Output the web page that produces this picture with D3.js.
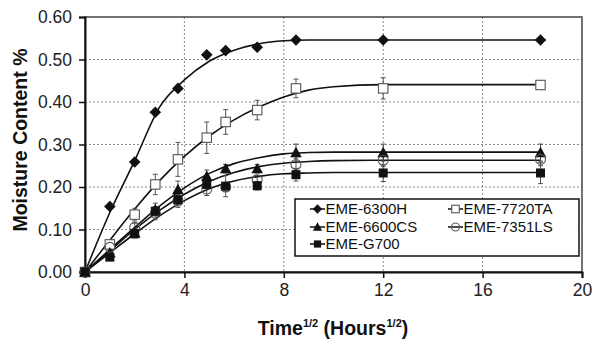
<!DOCTYPE html>
<html><head><meta charset="utf-8">
<script src="https://cdn.jsdelivr.net/npm/d3@7"></script>
<style>html,body{margin:0;padding:0;background:#fff;}svg{display:block;}</style>
</head><body>
<svg id="c" width="592" height="346"></svg>
<script>
// ---- data ----
const xValues = [0, 1, 2, 2.83, 3.74, 4.90, 5.66, 6.93, 8.49, 12, 18.33];
const seriesNames = ["EME-6300H", "EME-7720TA", "EME-6600CS", "EME-7351LS", "EME-G700"];
const m6300H  = [0, 0.154, 0.259, 0.376, 0.432, 0.511, 0.521, 0.529, 0.546, 0.546, 0.546];
const m7720TA = [0, 0.065, 0.135, 0.206, 0.265, 0.316, 0.353, 0.381, 0.432, 0.432, 0.440];
const m6600CS = [0, 0.045, 0.092, 0.147, 0.194, 0.225, 0.243, 0.243, 0.281, 0.281, 0.281];
const m7351LS = [0, 0.058, 0.105, 0.138, 0.167, 0.195, 0.200, 0.217, 0.253, 0.263, 0.265];
const mG700   = [0, 0.035, 0.090, 0.143, 0.170, 0.206, 0.202, 0.203, 0.229, 0.233, 0.233];
const e6300H  = [0, 0.004, 0.004, 0.004, 0.004, 0.004, 0.004, 0.004, 0.004, 0.004, 0.004];
const e7720TA = [0, 0.010, 0.015, 0.024, 0.040, 0.037, 0.029, 0.023, 0.022, 0.025, 0.010];
const e6600CS = [0, 0.006, 0.010, 0.015, 0.020, 0.015, 0.010, 0.010, 0.020, 0.020, 0.020];
const e7351LS = [0, 0.010, 0.010, 0.015, 0.015, 0.015, 0.010, 0.010, 0.015, 0.015, 0.015];
const eG700   = [0, 0.006, 0.010, 0.010, 0.010, 0.010, 0.025, 0.010, 0.015, 0.020, 0.025];
// fitted curves
const curveX   = [0, 1, 2, 3, 4, 5, 6, 7, 8, 9, 10, 12, 18.33];
const c6300H   = [0, 0.140, 0.262, 0.388, 0.452, 0.496, 0.522, 0.537, 0.544, 0.546, 0.546, 0.546, 0.546];
const c7720TA  = [0, 0.075, 0.148, 0.215, 0.272, 0.320, 0.358, 0.388, 0.412, 0.428, 0.436, 0.441, 0.441];
const c6600CS  = [0, 0.053, 0.105, 0.155, 0.198, 0.232, 0.255, 0.269, 0.278, 0.281, 0.282, 0.282, 0.282];
const c7351LS  = [0, 0.050, 0.100, 0.145, 0.183, 0.213, 0.234, 0.248, 0.256, 0.260, 0.262, 0.263, 0.263];
const cG700    = [0, 0.045, 0.090, 0.132, 0.168, 0.196, 0.214, 0.225, 0.231, 0.233, 0.234, 0.234, 0.234];
const xTicks = [0, 4, 8, 12, 16, 20];
const yTicks = [0, 0.1, 0.2, 0.3, 0.4, 0.5, 0.6];

// ---- layout ----
const svg = d3.select("#c");
const L = 85, R = 582, T = 17, B = 272;
const x = d3.scaleLinear().domain([0, 20]).range([L, R]);
const y = d3.scaleLinear().domain([0, 0.6]).range([B, T]);
const FONT = "'Liberation Sans', Arial, sans-serif";

const series = [
  {name: seriesNames[0], m: m6300H,  e: e6300H,  c: c6300H,  sym: "diamond"},
  {name: seriesNames[1], m: m7720TA, e: e7720TA, c: c7720TA, sym: "osquare"},
  {name: seriesNames[2], m: m6600CS, e: e6600CS, c: c6600CS, sym: "triangle"},
  {name: seriesNames[3], m: m7351LS, e: e7351LS, c: c7351LS, sym: "ocircle"},
  {name: seriesNames[4], m: mG700,   e: eG700,   c: cG700,   sym: "square"}
];

// grid
const grid = svg.append("g");
grid.selectAll("line.v").data(xTicks.slice(1, -1)).join("line")
  .attr("x1", d => x(d)).attr("x2", d => x(d)).attr("y1", T).attr("y2", B)
  .attr("stroke", "#8a8a8a").attr("stroke-width", 1).attr("stroke-dasharray", "2,2");
grid.selectAll("line.h").data(yTicks.slice(1, -1)).join("line")
  .attr("x1", L).attr("x2", R).attr("y1", d => y(d)).attr("y2", d => y(d))
  .attr("stroke", "#8a8a8a").attr("stroke-width", 1).attr("stroke-dasharray", "2,2");

// frame
svg.append("rect").attr("x", L).attr("y", T).attr("width", R - L).attr("height", B - T)
  .attr("fill", "none").attr("stroke", "#444").attr("stroke-width", 1.5);

// axes
const xAxis = svg.append("g").attr("transform", `translate(0,${B})`)
  .call(d3.axisBottom(x).tickValues(xTicks).tickFormat(d3.format("d")).tickSizeOuter(0).tickSize(6).tickPadding(6));
const yAxis = svg.append("g").attr("transform", `translate(${L},0)`)
  .call(d3.axisLeft(y).tickValues(yTicks).tickFormat(d3.format(".2f")).tickSizeOuter(0).tickSize(6).tickPadding(7));
[xAxis, yAxis].forEach(a => {
  a.select(".domain").attr("stroke", "#111").attr("stroke-width", 2);
  a.selectAll(".tick line").attr("stroke", "#111").attr("stroke-width", 1.5);
  a.selectAll(".tick text").attr("font-family", FONT).attr("font-size", 17.5).attr("fill", "#222");
});

// curves
const line = d3.line().x(d => x(d[0])).y(d => y(d[1])).curve(d3.curveMonotoneX);
series.forEach(s => {
  svg.append("path").attr("d", line(curveX.map((cx, i) => [cx, s.c[i]])))
    .attr("fill", "none").attr("stroke", "#111").attr("stroke-width", 1.6);
});

// error bars
series.forEach(s => {
  const g = svg.append("g").attr("stroke", "#444").attr("stroke-width", 0.9);
  xValues.forEach((xv, i) => {
    if (!s.e[i]) return;
    const y1 = y(s.m[i] - s.e[i]), y2 = y(s.m[i] + s.e[i]);
    g.append("line").attr("x1", x(xv)).attr("x2", x(xv)).attr("y1", y1).attr("y2", y2);
    g.append("line").attr("x1", x(xv) - 2.5).attr("x2", x(xv) + 2.5).attr("y1", y1).attr("y2", y1);
    g.append("line").attr("x1", x(xv) - 2.5).attr("x2", x(xv) + 2.5).attr("y1", y2).attr("y2", y2);
  });
});

function drawMarker(g, sym, cx, cy, k) {
  k = k || 1;
  if (sym === "diamond") {
    const r = 5.8 * k;
    g.append("path").attr("d", `M${cx},${cy - r}L${cx + r},${cy}L${cx},${cy + r}L${cx - r},${cy}Z`).attr("fill", "#111");
  } else if (sym === "osquare") {
    const h = 4.7 * k;
    g.append("rect").attr("x", cx - h).attr("y", cy - h).attr("width", 2 * h).attr("height", 2 * h)
      .attr("fill", "#fff").attr("stroke", "#555").attr("stroke-width", 1.1);
  } else if (sym === "triangle") {
    const h = 5.8 * k;
    g.append("path").attr("d", `M${cx},${cy - h}L${cx + h},${cy + h * 0.8}L${cx - h},${cy + h * 0.8}Z`).attr("fill", "#111");
  } else if (sym === "ocircle") {
    g.append("circle").attr("cx", cx).attr("cy", cy).attr("r", 5 * k)
      .attr("fill", "none").attr("stroke", "#555").attr("stroke-width", 1.1);
  } else {
    const h = 4.5 * k;
    g.append("rect").attr("x", cx - h).attr("y", cy - h).attr("width", 2 * h).attr("height", 2 * h).attr("fill", "#111");
  }
}

// markers
series.forEach(s => {
  const g = svg.append("g");
  xValues.forEach((xv, i) => drawMarker(g, s.sym, x(xv), y(s.m[i])));
});

// legend
const lg = svg.append("g");
lg.append("rect").attr("x", 295).attr("y", 199).attr("width", 284).attr("height", 57)
  .attr("fill", "#fff").attr("stroke", "#111").attr("stroke-width", 1.5);
const legPos = [[310, 209], [448, 209], [310, 227], [448, 227], [310, 244]];
series.forEach((s, i) => {
  const [lx, ly] = legPos[i];
  lg.append("line").attr("x1", lx).attr("x2", lx + 15).attr("y1", ly).attr("y2", ly)
    .attr("stroke", "#111").attr("stroke-width", 1.5);
  drawMarker(lg, s.sym, lx + 7.5, ly, 0.8);
  lg.append("text").attr("x", lx + 15.5).attr("y", ly + 5.3).text(s.name)
    .attr("font-family", FONT).attr("font-size", 15).attr("fill", "#111");
});

// axis titles
svg.append("text").attr("transform", "translate(27,140) rotate(-90)").attr("text-anchor", "middle")
  .attr("font-family", FONT).attr("font-weight", "bold").attr("font-size", 19.5).attr("fill", "#111")
  .text("Moisture Content %");
const xt = svg.append("text").attr("x", 333).attr("y", 335).attr("text-anchor", "middle")
  .attr("font-family", FONT).attr("font-weight", "bold").attr("font-size", 19.5).attr("fill", "#111");
xt.append("tspan").text("Time");
xt.append("tspan").attr("font-size", 11).attr("dy", -8).text("1/2");
xt.append("tspan").attr("dy", 8).text(" (Hours");
xt.append("tspan").attr("font-size", 11).attr("dy", -8).text("1/2");
xt.append("tspan").attr("dy", 8).text(")");
</script>
</body></html>
